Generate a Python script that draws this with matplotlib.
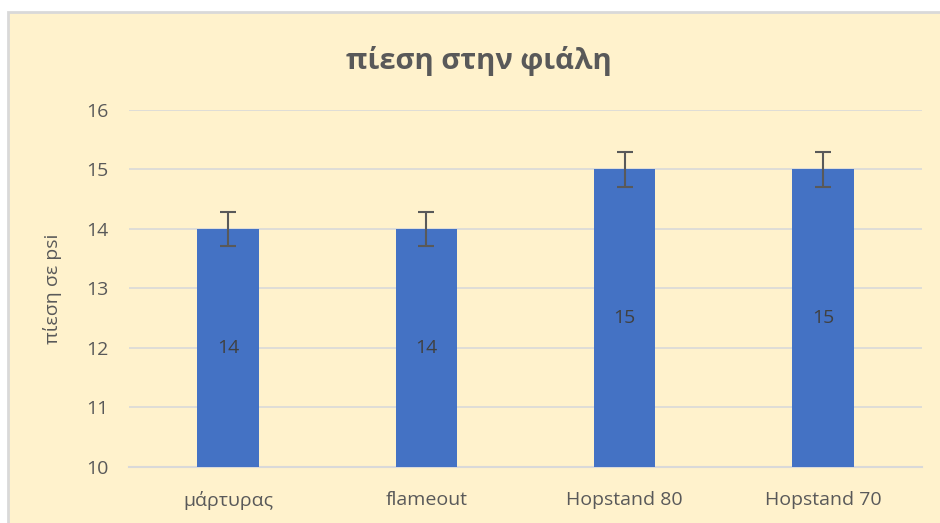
import matplotlib
matplotlib.use("Agg")
import matplotlib.pyplot as plt
from matplotlib.patches import Rectangle

plt.rcParams['font.family'] = ['Open Sans', 'DejaVu Sans']

categories = ["μάρτυρας", "flameout", "Hopstand 80", "Hopstand 70"]
values = [14, 14, 15, 15]
errors = [0.29, 0.29, 0.29, 0.29]
yticks = [10, 11, 12, 13, 14, 15, 16]

W, H = 940, 523
fig = plt.figure(figsize=(W/100, H/100), dpi=100)
fig.patch.set_facecolor("white")
# chart area background with border
bg = Rectangle((8/W, -0.1), 1.2, (H-12)/H + 0.1, transform=fig.transFigure,
               facecolor="#FFF2CC", edgecolor="#D9D9D9", linewidth=2, zorder=-10)
fig.patches.append(bg)

ax = fig.add_axes([129/W, (H-467)/H, (922-129)/W, (467-110)/H])
ax.set_zorder(5)
ax.set_facecolor("none")
x = list(range(len(categories)))
bars = ax.bar(x, [v - 10 for v in values], bottom=10, width=0.31, color="#4472C4", zorder=3)
ax.errorbar(x, values, yerr=errors, fmt="none", ecolor="#595959", elinewidth=1.5,
            capsize=6, capthick=1.5, zorder=4)
for xi, v in zip(x, values):
    ax.text(xi, (10 + v) / 2, f"{v}", ha="center", va="center", fontsize=14,
            color="#404040", zorder=5)

ax.set_xlim(-0.5, len(categories) - 0.5)
ax.set_ylim(10, 16)
ax.set_yticks(yticks)
ax.set_yticklabels([str(t) for t in yticks], fontsize=14, color="#595959")
ax.set_xticks(x)
ax.set_xticklabels(categories, fontsize=14, color="#595959")
ax.tick_params(axis="x", length=0, pad=17)
ax.tick_params(axis="y", length=0, pad=15)
ax.grid(axis="y", color="#D9D9D9", linewidth=1.2, zorder=0)
for s in ["top", "right", "left"]:
    ax.spines[s].set_visible(False)
ax.spines["bottom"].set_color("#D9D9D9")
ax.spines["bottom"].set_linewidth(1.5)
ax.set_ylabel("πίεση σε psi", fontsize=14, color="#595959")
ax.yaxis.set_label_coords((62 - 129) / (922 - 129), 0.5)

fig.text(479/W, 1 - 61/H, "πίεση στην φιάλη", ha="center", va="center",
         fontsize=21, fontweight="bold", color="#595959", zorder=6)

fig.savefig("out.png", dpi=100)
